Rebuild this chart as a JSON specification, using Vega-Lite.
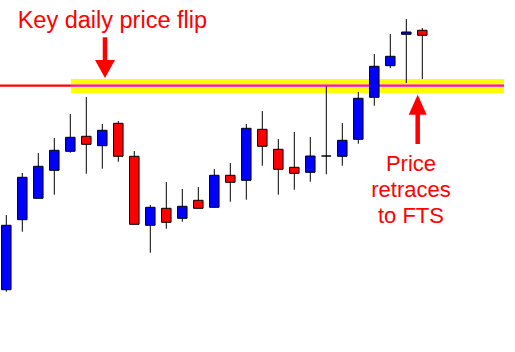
{
  "$schema": "https://vega.github.io/schema/vega-lite/v6.json",
  "width": 515,
  "height": 352,
  "autosize": {"type": "none"},
  "padding": 0,
  "background": "#ffffff",
  "config": {"view": {"stroke": null}, "scale": {"continuousPadding": 0}},
  "datasets": {
    "candles": [
      {"i": 1, "open": 1.30623, "high": 1.3137, "low": 1.30603, "close": 1.31267},
      {"i": 2, "open": 1.31323, "high": 1.3179, "low": 1.31203, "close": 1.31747},
      {"i": 3, "open": 1.31537, "high": 1.3199, "low": 1.31537, "close": 1.31857},
      {"i": 4, "open": 1.31817, "high": 1.3214, "low": 1.31573, "close": 1.32017},
      {"i": 5, "open": 1.32007, "high": 1.3238, "low": 1.31993, "close": 1.32147},
      {"i": 6, "open": 1.32157, "high": 1.3255, "low": 1.31783, "close": 1.32077},
      {"i": 7, "open": 1.32063, "high": 1.3228, "low": 1.31833, "close": 1.32217},
      {"i": 8, "open": 1.32287, "high": 1.3231, "low": 1.31903, "close": 1.31957},
      {"i": 9, "open": 1.31957, "high": 1.3201, "low": 1.31277, "close": 1.31277},
      {"i": 10, "open": 1.31267, "high": 1.3147, "low": 1.30993, "close": 1.31447},
      {"i": 11, "open": 1.31437, "high": 1.317, "low": 1.31233, "close": 1.31297},
      {"i": 12, "open": 1.31337, "high": 1.3163, "low": 1.31303, "close": 1.31457},
      {"i": 13, "open": 1.31517, "high": 1.3165, "low": 1.31437, "close": 1.31437},
      {"i": 14, "open": 1.31447, "high": 1.3183, "low": 1.31447, "close": 1.31767},
      {"i": 15, "open": 1.31767, "high": 1.3189, "low": 1.31503, "close": 1.31697},
      {"i": 16, "open": 1.31717, "high": 1.3228, "low": 1.31523, "close": 1.32237},
      {"i": 17, "open": 1.32227, "high": 1.3241, "low": 1.31863, "close": 1.32057},
      {"i": 18, "open": 1.32027, "high": 1.3213, "low": 1.31573, "close": 1.31827},
      {"i": 19, "open": 1.31847, "high": 1.322, "low": 1.31623, "close": 1.31787},
      {"i": 20, "open": 1.31797, "high": 1.3215, "low": 1.31703, "close": 1.3196},
      {"i": 21, "open": 1.3196, "high": 1.32657, "low": 1.31777, "close": 1.3196},
      {"i": 22, "open": 1.31957, "high": 1.3229, "low": 1.31863, "close": 1.32117},
      {"i": 23, "open": 1.32127, "high": 1.326, "low": 1.32083, "close": 1.32537},
      {"i": 24, "open": 1.32547, "high": 1.3298, "low": 1.32463, "close": 1.32857},
      {"i": 25, "open": 1.32863, "high": 1.3318, "low": 1.3284, "close": 1.32957},
      {"i": 26, "open": 1.33177, "high": 1.3333, "low": 1.3269, "close": 1.332},
      {"i": 27, "open": 1.33217, "high": 1.3324, "low": 1.3273, "close": 1.33167}
    ],
    "zone": [{"from": 5.04, "to": 32.106, "top": 1.3273, "bottom": 1.3259}],
    "level": [
      {"from": 0.606, "to": 5.04, "price": 1.32663, "segment": "before"},
      {"from": 5.04, "to": 32.106, "price": 1.32663, "segment": "zone"}
    ],
    "arrows": [
      {"at": 7.168, "top": 1.33147, "bottom": 1.329, "head": 1.32831, "dir": "down"},
      {"at": 26.712, "top": 1.3242, "bottom": 1.3208, "head": 1.32472, "dir": "up"}
    ],
    "title": [
      {"text": "Key daily price flip", "at": 7.628, "price": 1.33237}
    ],
    "notes": [
      {"text": "Price", "at": 26.29, "price": 1.31813},
      {"text": "retraces", "at": 26.29, "price": 1.31553},
      {"text": "to FTS", "at": 26.29, "price": 1.31293}
    ]
  },
  "layer": [
    {
      "data": {"name": "zone"},
      "mark": {"type": "rect", "color": "#ffff00"},
      "encoding": {
        "x": {"field": "from", "type": "quantitative", "scale": {"domain": [0.606, 32.794], "nice": false, "zero": false, "padding": 0}, "axis": null},
        "x2": {"field": "to"},
        "y": {"field": "top", "type": "quantitative", "scale": {"domain": [1.3, 1.3352], "nice": false, "zero": false}, "axis": null},
        "y2": {"field": "bottom"}
      }
    },
    {
      "data": {"name": "level"},
      "mark": {"type": "rule", "strokeWidth": 2.2},
      "encoding": {
        "x": {"field": "from", "type": "quantitative", "scale": {"domain": [0.606, 32.794], "nice": false, "zero": false, "padding": 0}, "axis": null},
        "x2": {"field": "to"},
        "y": {"field": "price", "type": "quantitative", "scale": {"domain": [1.3, 1.3352], "nice": false, "zero": false}, "axis": null},
        "color": {"field": "segment", "type": "nominal", "scale": {"domain": ["before", "zone"], "range": ["#ff0000", "#ff00ff"]}, "legend": null}
      }
    },
    {
      "data": {"name": "candles"},
      "mark": {"type": "rule", "color": "#000000", "strokeWidth": 1},
      "encoding": {
        "x": {"field": "i", "type": "quantitative", "scale": {"domain": [0.606, 32.794], "nice": false, "zero": false, "padding": 0}, "axis": null},
        "y": {"field": "high", "type": "quantitative", "scale": {"domain": [1.3, 1.3352], "nice": false, "zero": false}, "axis": null},
        "y2": {"field": "low"}
      }
    },
    {
      "data": {"name": "candles"},
      "mark": {"type": "bar", "size": 9.5, "stroke": "#000000", "strokeWidth": 1},
      "encoding": {
        "x": {"field": "i", "type": "quantitative", "scale": {"domain": [0.606, 32.794], "nice": false, "zero": false, "padding": 0}, "axis": null},
        "y": {"field": "open", "type": "quantitative", "scale": {"domain": [1.3, 1.3352], "nice": false, "zero": false}, "axis": null},
        "y2": {"field": "close"},
        "fill": {"condition": {"test": "datum.close >= datum.open", "value": "#0000ff"}, "value": "#ff0000"}
      }
    },
    {
      "data": {"name": "arrows"},
      "mark": {"type": "rule", "color": "#ff0000", "strokeWidth": 4.5},
      "encoding": {
        "x": {"field": "at", "type": "quantitative", "scale": {"domain": [0.606, 32.794], "nice": false, "zero": false, "padding": 0}, "axis": null},
        "y": {"field": "top", "type": "quantitative", "scale": {"domain": [1.3, 1.3352], "nice": false, "zero": false}, "axis": null},
        "y2": {"field": "bottom"}
      }
    },
    {
      "data": {"name": "arrows"},
      "mark": {"type": "point", "filled": true, "color": "#ff0000", "opacity": 1, "size": 400, "strokeWidth": 0},
      "encoding": {
        "x": {"field": "at", "type": "quantitative", "scale": {"domain": [0.606, 32.794], "nice": false, "zero": false, "padding": 0}, "axis": null},
        "y": {"field": "head", "type": "quantitative", "scale": {"domain": [1.3, 1.3352], "nice": false, "zero": false}, "axis": null},
        "shape": {"field": "dir", "type": "nominal", "scale": {"domain": ["down", "up"], "range": ["M-1,-0.9L1,-0.9L0,0.9Z", "M0,-1L0.9,1L-0.9,1Z"]}, "legend": null}
      }
    },
    {
      "data": {"name": "title"},
      "mark": {"type": "text", "font": "Liberation Sans", "fontSize": 23.5, "color": "#ff0000", "align": "center", "baseline": "alphabetic"},
      "encoding": {
        "x": {"field": "at", "type": "quantitative", "scale": {"domain": [0.606, 32.794], "nice": false, "zero": false, "padding": 0}, "axis": null},
        "y": {"field": "price", "type": "quantitative", "scale": {"domain": [1.3, 1.3352], "nice": false, "zero": false}, "axis": null},
        "text": {"field": "text"}
      }
    },
    {
      "data": {"name": "notes"},
      "mark": {"type": "text", "font": "Liberation Sans", "fontSize": 22, "color": "#ff0000", "align": "center", "baseline": "alphabetic"},
      "encoding": {
        "x": {"field": "at", "type": "quantitative", "scale": {"domain": [0.606, 32.794], "nice": false, "zero": false, "padding": 0}, "axis": null},
        "y": {"field": "price", "type": "quantitative", "scale": {"domain": [1.3, 1.3352], "nice": false, "zero": false}, "axis": null},
        "text": {"field": "text"}
      }
    }
  ]
}
